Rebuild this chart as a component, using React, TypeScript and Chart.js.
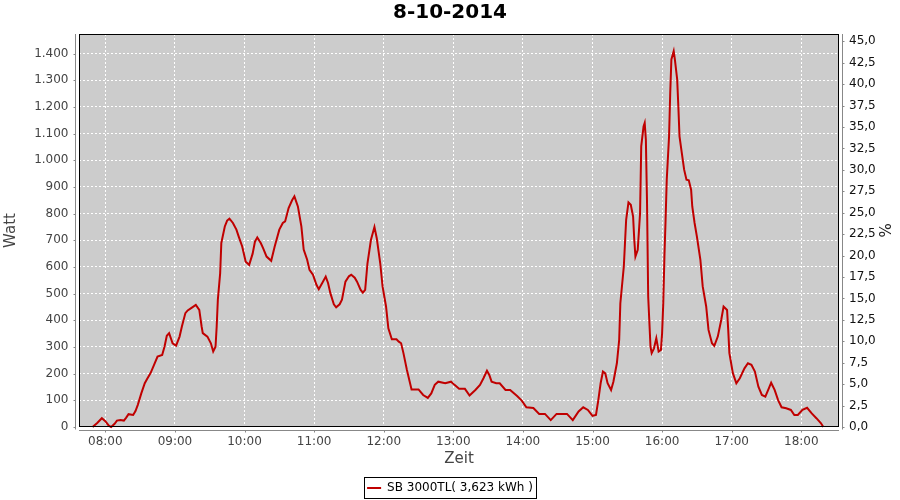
import React, { useEffect, useRef } from "react";
import { Chart, registerables } from "chart.js";

Chart.register(...registerables);

const TITLE = "8-10-2014";
const SERIES_LABEL = "SB 3000TL( 3,623 kWh )";
const X_TITLE = "Zeit";
const Y_TITLE = "Watt";
const Y2_TITLE = "%";

const times = [
  "07:49", "07:53", "07:57", "08:00", "08:03", "08:05", "08:08", "08:10", "08:13", "08:16",
  "08:18", "08:20", "08:24", "08:26", "08:28", "08:31", "08:34", "08:36", "08:39", "08:42",
  "08:45", "08:49", "08:51", "08:53", "08:55", "08:58", "09:01", "09:04", "09:06", "09:09",
  "09:11", "09:14", "09:18", "09:21", "09:23", "09:24", "09:28", "09:31", "09:33", "09:35",
  "09:36", "09:37", "09:39", "09:40", "09:43", "09:45", "09:47", "09:50", "09:53", "09:55",
  "09:58", "10:01", "10:04", "10:07", "10:09", "10:11", "10:14", "10:16", "10:19", "10:23",
  "10:26", "10:30", "10:33", "10:35", "10:38", "10:41", "10:43", "10:46", "10:49", "10:51",
  "10:54", "10:56", "10:59", "11:02", "11:04", "11:07", "11:10", "11:12", "11:14", "11:17",
  "11:19", "11:22", "11:24", "11:27", "11:30", "11:32", "11:35", "11:37", "11:40", "11:42",
  "11:44", "11:46", "11:49", "11:52", "11:54", "11:57", "11:59", "12:02", "12:04", "12:07",
  "12:11", "12:13", "12:15", "12:17", "12:20", "12:24", "12:30", "12:34", "12:38", "12:41",
  "12:44", "12:47", "12:53", "12:58", "13:01", "13:05", "13:10", "13:14", "13:19", "13:23",
  "13:26", "13:29", "13:31", "13:33", "13:37", "13:40", "13:45", "13:49", "13:55", "13:59",
  "14:03", "14:09", "14:14", "14:19", "14:24", "14:29", "14:38", "14:43", "14:48", "14:52",
  "14:56", "15:00", "15:03", "15:05", "15:07", "15:09", "15:11", "15:13", "15:16", "15:18",
  "15:21", "15:23", "15:24", "15:27", "15:28", "15:29", "15:31", "15:33", "15:35", "15:36",
  "15:37", "15:39", "15:41", "15:42", "15:44", "15:45", "15:46", "15:47", "15:48", "15:50",
  "15:51", "15:53", "15:55", "15:57", "15:59", "16:00", "16:01", "16:02", "16:03", "16:04",
  "16:06", "16:07", "16:08", "16:10", "16:11", "16:13", "16:14", "16:15", "16:17", "16:19",
  "16:21", "16:23", "16:25", "16:26", "16:28", "16:30", "16:33", "16:35", "16:38", "16:40",
  "16:43", "16:45", "16:48", "16:51", "16:53", "16:56", "16:57", "16:58", "17:01", "17:04",
  "17:07", "17:11", "17:14", "17:17", "17:20", "17:23", "17:26", "17:29", "17:32", "17:34",
  "17:37", "17:40", "17:43", "17:47", "17:51", "17:54", "17:57", "18:01", "18:05", "18:09",
  "18:13", "18:17", "18:19",
];

const watts = [
  0, 15, 33, 22, 5, 0, 12, 24, 26, 24,
  35, 48, 45, 60, 83, 126, 164, 180, 202, 233,
  264, 270, 301, 342, 352, 314, 305, 339, 377, 427,
  437, 446, 458, 439, 377, 352, 339, 314, 283, 301,
  377, 477, 577, 690, 752, 774, 781, 765, 740, 714,
  677, 620, 608, 650, 695, 711, 690, 671, 639, 623,
  677, 740, 765, 771, 821, 850, 865, 827, 752, 665,
  627, 589, 571, 533, 517, 540, 564, 540, 502, 460,
  449, 460, 477, 545, 565, 571, 560, 545, 515, 504,
  514, 614, 702, 750, 708, 614, 527, 452, 370, 329,
  329, 320, 314, 277, 214, 141, 141, 120, 109, 126,
  158, 170, 164, 170, 158, 143, 143, 118, 139, 158,
  183, 211, 195, 170, 164, 164, 139, 139, 116, 99,
  74, 71, 49, 49, 26, 49, 49, 26, 58, 74,
  64, 42, 45, 101, 164, 208, 201, 164, 139, 170,
  239, 327, 464, 602, 690, 777, 842, 833, 789, 702,
  639, 664, 802, 1052, 1127, 1140, 1077, 840, 489, 301,
  277, 295, 333, 283, 289, 352, 464, 639, 777, 927,
  1090, 1253, 1378, 1409, 1378, 1303, 1202, 1090, 1027, 965,
  927, 925, 890, 827, 765, 714, 627, 527, 452, 364,
  314, 304, 339, 402, 452, 439, 364, 277, 202, 164,
  183, 220, 239, 233, 208, 151, 120, 114, 145, 166,
  139, 101, 74, 70, 64, 45, 45, 64, 72, 51,
  33, 14, 0,
];

const xTicks = ["08:00", "09:00", "10:00", "11:00", "12:00", "13:00", "14:00", "15:00", "16:00", "17:00", "18:00"];
const wattTicks = [0, 100, 200, 300, 400, 500, 600, 700, 800, 900, 1000, 1100, 1200, 1300, 1400];
const pctTicks = [0, 2.5, 5, 7.5, 10, 12.5, 15, 17.5, 20, 22.5, 25, 27.5, 30, 32.5, 35, 37.5, 40, 42.5, 45];

const X_MIN = 457.3;
const X_MAX = 1112.5;
const WATT_MAX = 1473.6;
const PCT_MAX = 45.85;

const FONT = "'DejaVu Sans', 'Liberation Sans', sans-serif";
const LINE_COLOR = "#c00000";

const toMin = (s: string) => {
  const [h, m] = s.split(":").map(Number);
  return h * 60 + m;
};
const fmtTime = (v: number) => {
  const h = Math.floor(v / 60);
  const m = Math.round(v - h * 60);
  return String(h).padStart(2, "0") + ":" + String(m).padStart(2, "0");
};
const fmtWatt = (v: number) => String(v).replace(/\B(?=(\d{3})+(?!\d))/g, ".");
const fmtPct = (v: number) => v.toFixed(1).replace(".", ",");

const framePlugin = {
  id: "frame",
  beforeDraw(chart: any) {
    const { ctx, chartArea: a } = chart;
    ctx.save();
    ctx.fillStyle = "#cccccc";
    ctx.fillRect(a.left, a.top, a.right - a.left, a.bottom - a.top);
    ctx.restore();
  },
  afterDraw(chart: any) {
    const { ctx, chartArea: a, scales } = chart;
    ctx.save();
    // plot outline
    ctx.strokeStyle = "#000";
    ctx.lineWidth = 1;
    ctx.setLineDash([]);
    const L = Math.round(a.left) + 0.5;
    const T = Math.round(a.top) + 0.5;
    const R = Math.round(a.right) - 0.5;
    const B = Math.round(a.bottom) - 0.5;
    ctx.strokeRect(L, T, R - L, B - T);

    // offset gray axis lines with tick marks
    ctx.strokeStyle = "#888";
    ctx.beginPath();
    const lx = L - 4;
    ctx.moveTo(lx, T - 0.5);
    ctx.lineTo(lx, B + 3);
    for (const v of wattTicks) {
      const y = Math.round(scales.y.getPixelForValue(v)) + 0.5;
      ctx.moveTo(lx - 2, y);
      ctx.lineTo(lx, y);
    }
    const bx = B + 4;
    ctx.moveTo(L - 0.5, bx);
    ctx.lineTo(R + 0.5, bx);
    for (const t of xTicks) {
      const x = Math.round(scales.x.getPixelForValue(toMin(t))) + 0.5;
      ctx.moveTo(x, bx);
      ctx.lineTo(x, bx + 2);
    }
    const rx = R + 4;
    ctx.moveTo(rx, T - 0.5);
    ctx.lineTo(rx, B + 3);
    for (const v of pctTicks) {
      const y = Math.round(scales.y1.getPixelForValue(v)) + 0.5;
      ctx.moveTo(rx, y);
      ctx.lineTo(rx + 2, y);
    }
    ctx.stroke();

    // legend border
    const hb = chart.legend && chart.legend.legendHitBoxes && chart.legend.legendHitBoxes[0];
    if (hb) {
      ctx.strokeStyle = "#000";
      const cy = hb.top + hb.height / 2;
      const x0 = Math.round(hb.left - 3) + 0.5;
      const x1 = Math.round(hb.left + hb.width + 3) + 0.5;
      const y0 = Math.round(cy - 11) + 0.5;
      const y1 = Math.round(cy + 10) + 0.5;
      ctx.strokeRect(x0, y0, x1 - x0, y1 - y0);
    }
    ctx.restore();
  },
};

export default function App() {
  const canvasRef = useRef<HTMLCanvasElement | null>(null);

  useEffect(() => {
    const canvas = canvasRef.current;
    if (!canvas) return;
    const chart = new Chart(canvas, {
      type: "line",
      data: {
        datasets: [
          {
            label: SERIES_LABEL,
            data: times.map((t, i) => ({ x: toMin(t), y: watts[i] })),
            borderColor: LINE_COLOR,
            backgroundColor: LINE_COLOR,
            borderWidth: 2,
            pointRadius: 0,
            pointStyle: "line",
            tension: 0,
            yAxisID: "y",
            clip: 3,
          },
        ],
      },
      options: {
        animation: false,
        responsive: true,
        maintainAspectRatio: false,
        layout: { padding: { top: 0, left: 0, right: 0, bottom: -4 } },
        plugins: {
          title: {
            display: true,
            text: TITLE,
            color: "#000",
            font: { family: FONT, size: 20, weight: "bold", lineHeight: 1.2 },
            padding: { top: 0.5, bottom: 9.5 },
          },
          legend: {
            position: "bottom",
            labels: {
              usePointStyle: true,
              pointStyle: "line",
              pointStyleWidth: 14,
              color: "#000",
              font: { family: FONT, size: 12 },
              padding: 10,
            },
          },
          tooltip: { enabled: false },
        },
        scales: {
          x: {
            type: "linear",
            position: "bottom",
            min: X_MIN,
            max: X_MAX,
            afterBuildTicks: (s: any) => {
              s.ticks = xTicks.map((t) => ({ value: toMin(t) }));
            },
            afterFit: (s: any) => {
              s.height = 45;
            },
            ticks: {
              callback: (v: any) => fmtTime(Number(v)),
              color: "#444",
              font: { family: FONT, size: 12 },
              padding: 7.5,
              maxRotation: 0,
              autoSkip: false,
            },
            grid: { color: "#ffffff", lineWidth: 1, drawTicks: false },
            border: { display: false, dash: [2, 2] },
            title: {
              display: true,
              text: X_TITLE,
              color: "#444",
              font: { family: FONT, size: 15, lineHeight: 1.2 },
              padding: { top: 0, bottom: 4 },
            },
          },
          y: {
            type: "linear",
            position: "left",
            min: 0,
            max: WATT_MAX,
            afterBuildTicks: (s: any) => {
              s.ticks = wattTicks.map((v) => ({ value: v }));
            },
            afterFit: (s: any) => {
              s.width = 79;
            },
            ticks: {
              callback: (v: any) => fmtWatt(Number(v)),
              color: "#444",
              font: { family: FONT, size: 12 },
              padding: 10.5,
              autoSkip: false,
            },
            grid: { color: "#ffffff", lineWidth: 1, drawTicks: false },
            border: { display: false, dash: [2, 2] },
            title: {
              display: true,
              text: Y_TITLE,
              color: "#444",
              font: { family: FONT, size: 15, lineHeight: 1.2 },
              padding: { top: 2, bottom: 0 },
            },
          },
          y1: {
            type: "linear",
            position: "right",
            min: 0,
            max: PCT_MAX,
            afterBuildTicks: (s: any) => {
              s.ticks = pctTicks.map((v) => ({ value: v }));
            },
            afterFit: (s: any) => {
              s.width = 61;
            },
            ticks: {
              callback: (v: any) => fmtPct(Number(v)),
              color: "#111",
              font: { family: FONT, size: 12 },
              padding: 10,
              autoSkip: false,
            },
            grid: { display: false, drawTicks: false },
            border: { display: false },
            title: {
              display: true,
              text: Y2_TITLE,
              color: "#222",
              font: { family: FONT, size: 15, lineHeight: 1.2 },
              padding: { top: 8, bottom: 0 },
            },
          },
        },
      },
      plugins: [framePlugin],
    } as any);
    return () => chart.destroy();
  }, []);

  return (
    <div
      style={{
        position: "fixed",
        left: 0,
        top: 0,
        width: 900,
        height: 500,
        overflow: "hidden",
        background: "#fff",
      }}
    >
      <canvas ref={canvasRef} width={900} height={500} />
    </div>
  );
}
